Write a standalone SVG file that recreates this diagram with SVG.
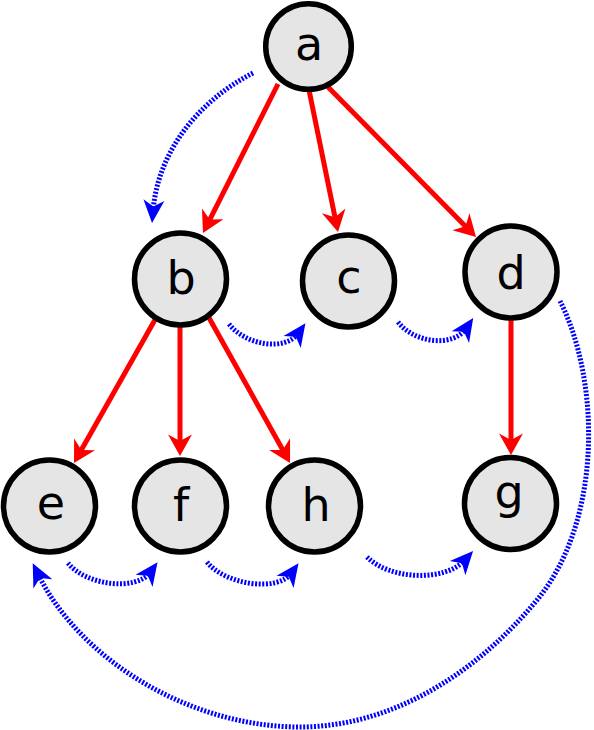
<svg xmlns="http://www.w3.org/2000/svg" width="594" height="730" viewBox="0 0 594 730">
<style>
.node circle{fill:#e5e5e5;stroke:#000;stroke-width:5.5}
.node text{font-family:"DejaVu Sans",sans-serif;font-size:46px;fill:#000;text-anchor:middle}
.tree{fill:none;stroke:#ff0000;stroke-width:5}
.order{fill:none;stroke:#0000ff;stroke-width:5;stroke-dasharray:2 1.6}
</style>
<defs>
<marker id="red" markerUnits="userSpaceOnUse" orient="auto" refX="0" refY="0" markerWidth="30" markerHeight="30" overflow="visible">
<path d="M12,0 L-9.5,-12 L-3,0 L-9.5,12 Z" fill="#ff0000"/>
</marker>
<marker id="blue" markerUnits="userSpaceOnUse" orient="auto" refX="0" refY="0" markerWidth="30" markerHeight="30" overflow="visible">
<path d="M12,0 L-11,-10.5 L-4.5,0 L-11,10.5 Z" fill="#0000ff"/>
</marker>
</defs>
<g id="connectors">
<path class="tree" d="M278,84 L208.4,222.3" marker-end="url(#red)"/>
<path class="tree" d="M309,90 L335.6,220.2" marker-end="url(#red)"/>
<path class="tree" d="M328,87 L467.6,228.5" marker-end="url(#red)"/>
<path class="tree" d="M156,318 L79.9,452.6" marker-end="url(#red)"/>
<path class="tree" d="M180,326 L180,444" marker-end="url(#red)"/>
<path class="tree" d="M208,316 L284.2,452.5" marker-end="url(#red)"/>
<path class="tree" d="M511,320 L511,443" marker-end="url(#red)"/>
<path class="order" d="M253,73 C200,100 158,150 153,211" marker-end="url(#blue)"/>
<path class="order" d="M229,324 C245,345 285,352 298.5,333" marker-end="url(#blue)"/>
<path class="order" d="M398,322 C414,343 453,348 466.5,328" marker-end="url(#blue)"/>
<path class="order" d="M68,563 C85,585 136,592 150.5,572" marker-end="url(#blue)"/>
<path class="order" d="M207,562 C224,584 277,593 291.5,573" marker-end="url(#blue)"/>
<path class="order" d="M367,557 C390,580 445,582 465,560" marker-end="url(#blue)"/>
<path class="order" d="M560,301 C600,380 603,520 537,600 C475,675 390,727 300,727 C190,727 80,660 38,574" marker-end="url(#blue)"/>
</g>
<g id="node-a" class="node"><circle cx="308.5" cy="46.5" r="42.8"/><text x="309" y="60">a</text></g>
<g id="node-b" class="node"><circle cx="180.5" cy="279" r="46"/><text x="181" y="294">b</text></g>
<g id="node-c" class="node"><circle cx="348.5" cy="281" r="46"/><text x="349" y="293">c</text></g>
<g id="node-d" class="node"><circle cx="511" cy="272" r="46"/><text x="511" y="289">d</text></g>
<g id="node-e" class="node"><circle cx="49.5" cy="506" r="46"/><text x="51" y="519">e</text></g>
<g id="node-f" class="node"><circle cx="180.5" cy="506" r="46"/><text x="181" y="521">f</text></g>
<g id="node-h" class="node"><circle cx="314.5" cy="506" r="46"/><text x="316" y="521">h</text></g>
<g id="node-g" class="node"><circle cx="510.5" cy="503.5" r="46"/><text x="509" y="508">g</text></g>
</svg>
